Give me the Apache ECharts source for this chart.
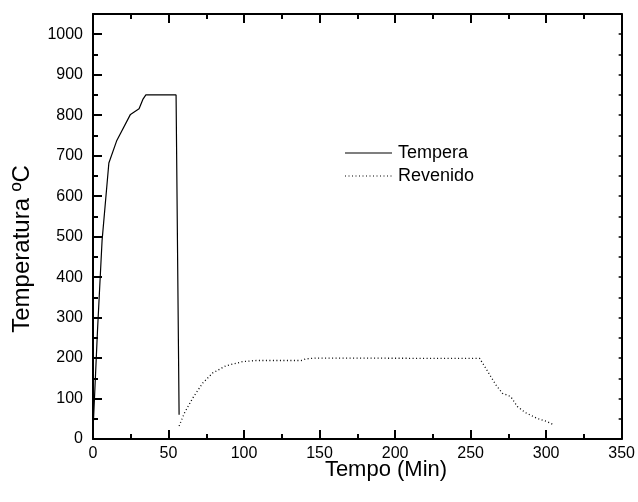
<!DOCTYPE html>
<html>
<head>
<meta charset="utf-8">
<script src="https://cdn.jsdelivr.net/npm/echarts@6/dist/echarts.min.js"></script>
<style>html,body{margin:0;padding:0;background:#fff}#c{width:638px;height:502px}</style>
</head>
<body>
<div id="c"></div>
<script>
const seriesNames = ['Tempera', 'Revenido'];
const temperaX = [0, 3, 6, 10.5, 15.6, 24.8, 30.5, 33, 35, 55, 57];
const temperaY = [20, 270, 490, 682, 736, 802, 816, 839, 850, 850, 60];
const revenidoX = [57, 60.5, 66, 72.6, 79.2, 88, 99, 108, 138, 141, 148, 256, 260, 263.4, 266.7, 271, 276.5, 281, 286.4, 294, 300.7, 305];
const revenidoY = [32, 64, 101, 138, 163, 181, 191, 194, 194, 198, 200, 199, 175, 154, 134, 113, 105, 80, 65, 51, 43, 35];
const xTitle = 'Tempo (Min)';
const yTitle = 'Temperatura ºC';

const font = 'Liberation Sans, Arial, sans-serif';
const chart = echarts.init(document.getElementById('c'));
const axisCommon = {
  axisLine: {show: true, onZero: false, lineStyle: {color: '#000', width: 2}},
  splitLine: {show: false}
};
const dotted = [1, 2.5];
chart.setOption({
  animation: false,
  grid: {left: 93, right: 13, top: 14, bottom: 63},
  xAxis: [
    Object.assign({}, axisCommon, {
      type: 'value', position: 'bottom', min: 0, max: 350, interval: 50,
      axisTick: {show: true, inside: true, length: 9, lineStyle: {color: '#000', width: 2}},
      minorTick: {show: true, splitNumber: 2, length: 5, lineStyle: {color: '#000', width: 2}},
      axisLabel: {fontFamily: font, fontSize: 16, color: '#000', margin: 7, formatter: v => String(v)}
    }),
    Object.assign({}, axisCommon, {
      type: 'value', position: 'top', min: 0, max: 350, interval: 50,
      axisTick: {show: true, inside: true, length: 9, lineStyle: {color: '#000', width: 2}},
      minorTick: {show: true, splitNumber: 2, length: 5, lineStyle: {color: '#000', width: 2}},
      axisLabel: {show: false}
    })
  ],
  yAxis: [
    Object.assign({}, axisCommon, {
      type: 'value', position: 'left', min: 0, max: 1050, interval: 100,
      axisTick: {show: true, inside: true, length: 9, lineStyle: {color: '#000', width: 2}},
      minorTick: {show: true, splitNumber: 2, length: 5, lineStyle: {color: '#000', width: 2}},
      axisLabel: {fontFamily: font, fontSize: 16, color: '#000', margin: 10, showMaxLabel: false, formatter: v => String(v)}
    }),
    Object.assign({}, axisCommon, {
      type: 'value', position: 'right', min: 0, max: 1050, interval: 100,
      axisTick: {show: true, inside: true, length: 3, lineStyle: {color: '#000', width: 1.5}},
      minorTick: {show: true, splitNumber: 2, length: 3, lineStyle: {color: '#000', width: 1.5}},
      axisLabel: {show: false}
    })
  ],
  graphic: [
    {type: 'text', x: 386, y: 470, style: {text: xTitle, font: '22px ' + font, fill: '#000', textAlign: 'center', textVerticalAlign: 'middle'}},
    {type: 'text', x: 22, y: 249, rotation: Math.PI / 2, style: {text: yTitle, font: '24px ' + font, fill: '#000', textAlign: 'center', textVerticalAlign: 'middle'}},
    {type: 'line', shape: {x1: 345, y1: 153, x2: 392, y2: 153}, style: {stroke: '#000', lineWidth: 1.2}},
    {type: 'text', x: 398, y: 153, style: {text: seriesNames[0], font: '18px ' + font, fill: '#000', textVerticalAlign: 'middle'}},
    {type: 'line', shape: {x1: 345, y1: 176, x2: 392, y2: 176}, style: {stroke: '#000', lineWidth: 1.2, lineDash: dotted}},
    {type: 'text', x: 398, y: 176, style: {text: seriesNames[1], font: '18px ' + font, fill: '#000', textVerticalAlign: 'middle'}}
  ],
  series: [
    {
      name: seriesNames[0], type: 'line', symbol: 'none',
      data: temperaX.map((x, i) => [x, temperaY[i]]),
      lineStyle: {color: '#000', width: 1.2, type: 'solid'}
    },
    {
      name: seriesNames[1], type: 'line', symbol: 'none',
      data: revenidoX.map((x, i) => [x, revenidoY[i]]),
      lineStyle: {color: '#000', width: 1.3, type: dotted}
    }
  ]
});
</script>
</body>
</html>
